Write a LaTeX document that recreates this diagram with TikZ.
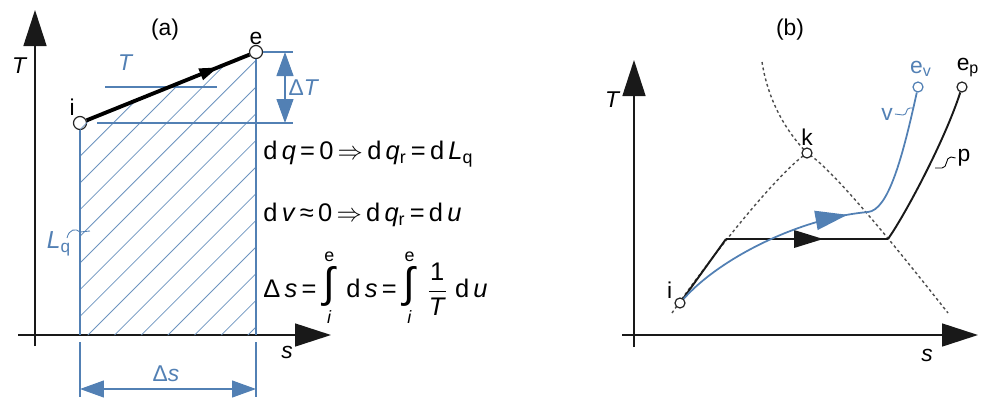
\documentclass[tikz,border=0pt]{standalone}
\usepackage{amsmath}
\usepackage{fontspec}
\setmainfont{Liberation Sans}
\usetikzlibrary{arrows.meta, decorations.markings, positioning, calc}

\definecolor{dimblue}{RGB}{82,128,180}
% integral sign from i to e, with the text font
\newcommand{\intie}{\ensuremath{\mathop{\text{\fontsize{24}{24}\selectfont ∫}}\limits_{\text{\textit{i}}}^{\text{e}}}}

\begin{document}
\begin{tikzpicture}[
    x=0.02cm, y=-0.02cm,
    % --- STYLES ---
    axis/.style={black!90, line width=0.9pt, -{Triangle[length=0.72cm, width=0.46cm]}},
    statept/.style={circle, draw=black!85, fill=white, line width=0.7pt, inner sep=0pt, minimum size=0.26cm},
    smallpt/.style={statept, minimum size=0.2cm},
    lbl/.style={font=\fontsize{13}{15}\selectfont, inner sep=1pt},
    varlbl/.style={font=\fontsize{13}{15}\selectfont\itshape, inner sep=1pt},
    eqn/.style={anchor=west, font=\fontsize{14.5}{17}\selectfont, inner sep=0pt},
    helper/.style={dimblue, line width=0.7pt},
    dimline/.style={helper, {Triangle[length=0.48cm, width=0.34cm]}-{Triangle[length=0.48cm, width=0.34cm]}},
    hatch/.style={dimblue!85, line width=0.45pt},
    leader/.style={line width=0.5pt},
    dome/.style={black!70, line width=0.8pt, dash pattern=on 1.6pt off 1.6pt},
    proc/.style={black, line width=2.2pt},
    pline/.style={black!90, line width=1.1pt},
    vline/.style={dimblue, line width=1pt},
    midarrow/.style 2 args={postaction={decorate}, decoration={markings,
        mark=at position #1 with {\arrow{Triangle[length=#2, width=0.6*#2]}}}}
]
\useasboundingbox (0,0) rectangle (985,397);

% --- 1. PANEL (a): AXES ---
\draw[axis] (35,346) -- (35,10);
\draw[axis] (18,335) -- (331,335);
\node[varlbl] (Ta) at (19,66) {T};
\node[varlbl] (sa) at (287,352) {s};
\node[lbl] (capa) at (165,30) {(a)};

% states i and e
\node[statept] (ia) at (80,123) {};
\node[statept] (ea) at (256,52) {};
\node[lbl, above left=0pt and -1pt of ia] (ila) {i};
\node[lbl, above=-1pt of ea] (ela) {e};

% hatched area = heat of friction
\begin{scope}
  \clip (80,335) -- (80,123) -- (256,52) -- (256,335) -- cycle;
  \foreach \c in {129.6,156.27,...,600} {
    \draw[hatch] (\c-400,400) -- (\c,0);
  }
\end{scope}

% helper lines
\draw[helper] (ia.south) -- (80,335);
\draw[helper] (80,342) -- (80,397);
\draw[helper] (ea.south) -- (256,335);
\draw[helper] (256,342) -- (256,397);
\draw[helper] (97,123) -- (293,123);
\draw[helper] (ea.east) -- (293,52);
\draw[helper] (105,87) -- (217,87);

% process line i -> e
\draw[proc, midarrow={0.81}{0.38cm}] (ia) -- (ea);

% dimensions
\coordinate (dTt) at (285,52);
\coordinate (dTb) at (285,123);
\draw[dimline] (dTt) -- (dTb);
\node[text=dimblue, font=\fontsize{13}{15}\selectfont, inner sep=1pt] (dT) at (304,88) {Δ\textit{T}};
\coordinate (dsl) at (80,389);
\coordinate (dsr) at (256,389);
\draw[dimline] (dsl) -- (dsr);
\node[text=dimblue, font=\fontsize{13}{15}\selectfont, inner sep=1pt] (ds) at (166,374) {Δ\textit{s}};
\node[text=dimblue, font=\fontsize{13}{15}\selectfont\itshape, inner sep=1pt] (Tm) at (125,63) {T};
\node[text=dimblue, font=\fontsize{14}{16}\selectfont, inner sep=0pt] (Lq) at (59,244) {\textit{L}\textsubscript{q}};
\draw[helper, leader] (67,238) .. controls (69,229) and (76,228) .. (80,232) -- (90,231);

% equations
\node[eqn] (eq1) at (263,154) {d\,\textit{q}\,=\,0\,$\Rightarrow$\,d\,\textit{q}\textsubscript{r}\,=\,d\,\textit{L}\textsubscript{q}};
\node[eqn] (eq2) at (263,215) {d\,\textit{v}\,≈\,0\,$\Rightarrow$\,d\,\textit{q}\textsubscript{r}\,=\,d\,\textit{u}};
\node[eqn] (eq3) at (263,288) {Δ\,\textit{s}\,=\;\intie\;\,d\,\textit{s}\,=\;\intie\;\,$\dfrac{\text{1}}{\text{\textit{T}}}$\;d\,\textit{u}};

% --- 2. PANEL (b): AXES ---
\draw[axis] (634,347) -- (634,60);
\draw[axis] (622,335) -- (978,335);
\node[varlbl] (Tb) at (612,100) {T};
\node[varlbl] (sb) at (927,355) {s};
\node[lbl] (capb) at (790,30) {(b)};

% saturation dome and critical curve
\coordinate (dl) at (672,313);
\coordinate (dr) at (948,313);
\coordinate (kt) at (762,62);
\coordinate (k0) at (807,153);
\draw[dome] (dl) .. controls (705,265) and (775,175) .. (k0) .. controls (835,170) and (910,265) .. (dr);
\draw[dome] (kt) .. controls (768,100) and (785,130) .. (k0);

% states
\node[smallpt] (ib) at (680,303) {};
\node[smallpt] (k) at (k0) {};
\node[smallpt, draw=dimblue] (ev) at (918,87) {};
\node[smallpt] (ep) at (962,87) {};
\node[lbl, above left=-1pt and 1pt of ib] (ilb) {i};
\node[lbl, above=0pt of k] (klb) {k};
\node[lbl, text=dimblue, anchor=south] (evl) at (921,79) {e\textsubscript{v}};
\node[lbl, anchor=south] (epl) at (968,79) {e\textsubscript{p}};

% process p (black)
\coordinate (pa) at (726,239);
\coordinate (pb) at (888,239);
\draw[pline] (ib) -- (pa);
\draw[pline, midarrow={0.6}{0.58cm}] (pa) -- (pb);
\draw[pline] (pb) .. controls (905,215) and (945,140) .. (ep);

% process v (blue)
\coordinate (vb) at (868,212);
\draw[vline, midarrow={0.9}{0.64cm}] (ib) .. controls (720,258) and (800,218) .. (vb);
\draw[vline] (vb) .. controls (888,210) and (902,160) .. (ev);

% curve labels
\node[lbl, text=dimblue] (vlb) at (887,114) {v};
\coordinate (vc) at (914,108);
\draw[helper, leader] (vlb.east) -- (903,115) .. controls (908,115) and (905,108) .. (910,108) -- (vc);
\node[lbl] (plb) at (964,158) {p};
\coordinate (pc) at (935,168);
\draw[leader] (pc) -- (942,168) .. controls (948,168) and (945,157) .. (951,157) -- (plb.west);

\end{tikzpicture}
\end{document}
